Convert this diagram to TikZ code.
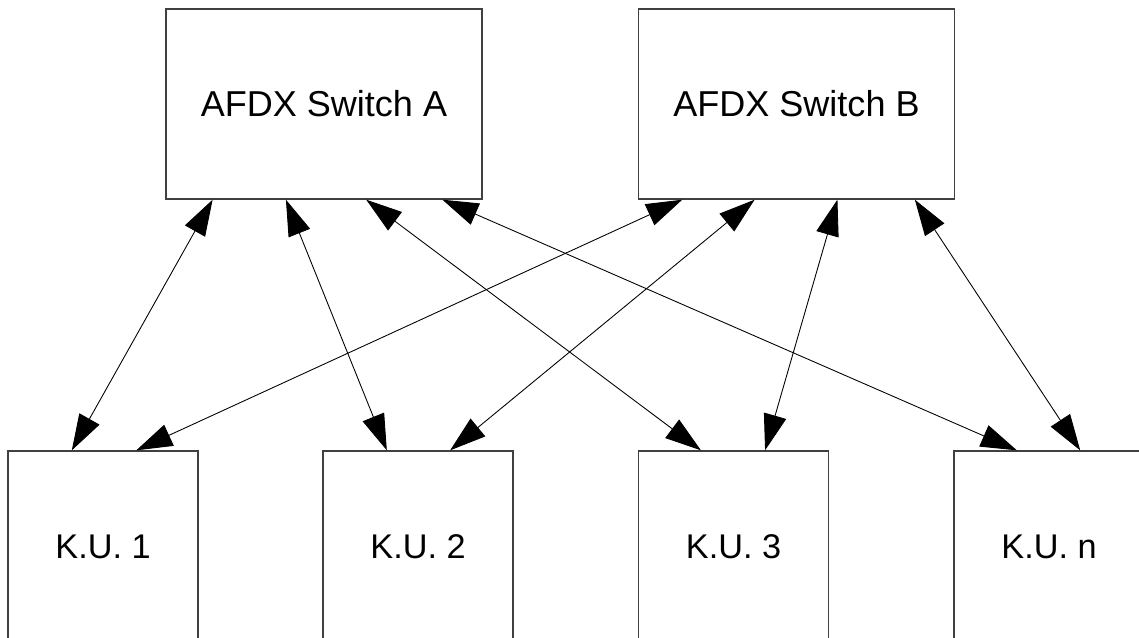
\documentclass[tikz,border=0pt]{standalone}
\usepackage{fontspec}
\setmainfont{Liberation Sans}
\usetikzlibrary{arrows.meta,calc}
\tikzset{
  unit/.style={draw=black!75,line width=0.8pt,rectangle,minimum width=3.8cm,minimum height=3.84cm,font=\fontsize{19.5}{23}\selectfont},
  switch/.style={unit,minimum width=6.32cm,minimum height=3.8cm,font=\fontsize{20.5}{24}\selectfont},
  link/.style={{Triangle[length=0.72cm,width=0.46cm]}-{Triangle[length=0.72cm,width=0.46cm]},line width=0.5pt}
}
\begin{document}
\begin{tikzpicture}[x=0.02cm,y=-0.02cm]
\useasboundingbox (0,0) rectangle (1139,637);
\clip (0,0) rectangle (1139,637);
\node[switch] (swA) at (324,104) {AFDX Switch A};
\node[switch] (swB) at (796.5,104) {AFDX Switch B};
\node[unit] (ku1) at (103,547) {K.U. 1};
\node[unit] (ku2) at (418,547) {K.U. 2};
\node[unit] (ku3) at (733.5,547) {K.U. 3};
\node[unit] (kun) at (1049,547) {K.U. n};
\draw[link] ($(swA.south west)!0.149!(swA.south east)$) -- ($(ku1.north west)!0.337!(ku1.north east)$);
\draw[link] ($(swA.south west)!0.38!(swA.south east)$) -- ($(ku2.north west)!0.337!(ku2.north east)$);
\draw[link] ($(swA.south west)!0.633!(swA.south east)$) -- ($(ku3.north west)!0.33!(ku3.north east)$);
\draw[link] ($(swA.south west)!0.873!(swA.south east)$) -- ($(kun.north west)!0.332!(kun.north east)$);
\draw[link] ($(swB.south west)!0.14!(swB.south east)$) -- ($(ku1.north west)!0.674!(ku1.north east)$);
\draw[link] ($(swB.south west)!0.368!(swB.south east)$) -- ($(ku2.north west)!0.668!(ku2.north east)$);
\draw[link] ($(swB.south west)!0.629!(swB.south east)$) -- ($(ku3.north west)!0.665!(ku3.north east)$);
\draw[link] ($(swB.south west)!0.873!(swB.south east)$) -- ($(kun.north west)!0.663!(kun.north east)$);
\end{tikzpicture}
\end{document}
